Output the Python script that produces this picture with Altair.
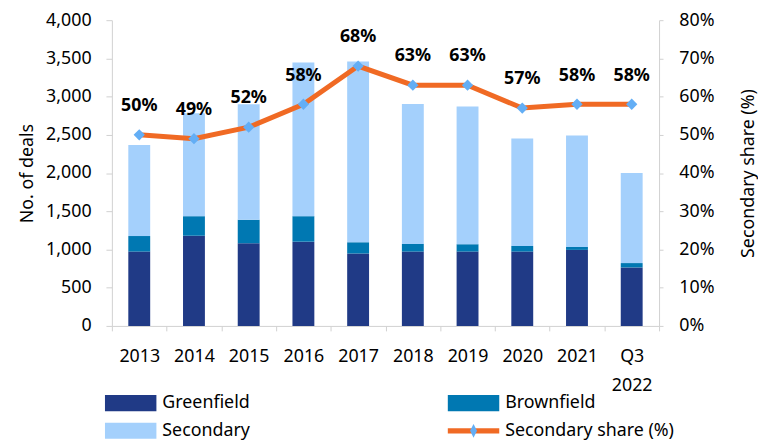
import altair as alt
import pandas as pd

FONT = "Noto Sans"

years = ["2013", "2014", "2015", "2016", "2017", "2018", "2019", "2020", "2021", "Q3 2022"]
greenfield = [973, 1180, 1081, 1102, 947, 973, 973, 973, 995, 765]
brownfield = [203, 256, 307, 334, 147, 100, 96, 74, 39, 57]
secondary = [1190, 1345, 1513, 2010, 2365, 1832, 1802, 1404, 1456, 1180]
share = [0.50, 0.49, 0.52, 0.58, 0.68, 0.63, 0.63, 0.57, 0.58, 0.58]

series_names = ["Greenfield", "Brownfield", "Secondary"]
series_colors = ["#203a86", "#0078b2", "#a4d0fc"]
line_name = "Secondary share (%)"
line_color = "#f06a24"
marker_color = "#63aef5"
axis_grey = "#d0d0d0"

left_ticks = [0, 500, 1000, 1500, 2000, 2500, 3000, 3500, 4000]
right_ticks = [0, 0.1, 0.2, 0.3, 0.4, 0.5, 0.6, 0.7, 0.8]

# legend layout (2 columns x 2 rows)
leg_labels = series_names + [line_name]
leg_col = [0, 1, 0, 1]
leg_row = [0, 0, 1, 1]

rows = []
for i, yr in enumerate(years):
    for k, (name, vals) in enumerate(zip(series_names, [greenfield, brownfield, secondary])):
        rows.append({"year": yr, "series": name, "value": vals[i], "order": k})
bars_df = pd.DataFrame(rows)
share_df = pd.DataFrame({"year": years, "share": share})
leg_df = pd.DataFrame({"label": leg_labels, "col": leg_col, "row": leg_row})

x_enc = alt.X(
    "year:N",
    sort=years,
    scale=alt.Scale(paddingInner=0, paddingOuter=0),
    axis=alt.Axis(
        title=None,
        labelAngle=0,
        labelExpr="datum.value == 'Q3 2022' ? ['Q3', '2022'] : datum.value",
        tickBand="extent",
        tickSize=5,
        labelPadding=17,
        labelLineHeight=29,
        domainColor=axis_grey,
        tickColor=axis_grey,
    ),
)

bars = alt.Chart(bars_df).mark_bar(width=alt.RelativeBandSize(0.4)).encode(
    x=x_enc,
    y=alt.Y(
        "value:Q",
        stack="zero",
        scale=alt.Scale(domain=[0, 4000]),
        axis=alt.Axis(
            values=left_ticks,
            format=",.0f",
            title="No. of deals",
            grid=False,
            tickSize=6,
            labelPadding=15,
            titlePadding=9,
            domainColor=axis_grey,
            tickColor=axis_grey,
        ),
    ),
    color=alt.Color("series:N", scale=alt.Scale(domain=series_names, range=series_colors), legend=None),
    order=alt.Order("order:Q"),
)

y_share = alt.Y(
    "share:Q",
    scale=alt.Scale(domain=[0, 0.8]),
    axis=alt.Axis(
        orient="right",
        values=right_ticks,
        format=".0%",
        title=line_name,
        titleAngle=270,
        titleBaseline="top",
        grid=False,
        tickSize=4,
        labelPadding=16,
        titlePadding=26,
        domainColor=axis_grey,
        tickColor=axis_grey,
    ),
)

line = alt.Chart(share_df).mark_line(color=line_color, strokeWidth=5).encode(x=x_enc, y=y_share)
pts = alt.Chart(share_df).mark_point(
    shape="diamond", filled=True, size=130, color=marker_color, opacity=1
).encode(x=x_enc, y=y_share)
txt = alt.Chart(share_df).mark_text(
    dy=-29, fontSize=18, fontWeight="bold", font=FONT, color="black"
).encode(x=x_enc, y=y_share, text=alt.Text("share:Q", format=".0%"))

main = alt.layer(bars, alt.layer(line, pts, txt)).resolve_scale(y="independent").properties(
    width=553, height=309
)

lx = alt.X("col:Q", scale=alt.Scale(domain=[0, 1], range=[19, 365.5]), axis=None)
ly = alt.Y("row:Q", scale=alt.Scale(domain=[0, 1], range=[7, 35]), axis=None)

swatch = alt.Chart(leg_df).transform_filter(
    alt.datum.label != line_name
).mark_point(
    shape="M-1.6,-0.5H1.6V0.5H-1.6Z", filled=True, size=1056, opacity=1
).encode(
    x=lx,
    y=ly,
    color=alt.Color("label:N", scale=alt.Scale(domain=series_names, range=series_colors), legend=None),
)

leg_line = alt.Chart(leg_df).transform_filter(
    alt.datum.label == line_name
).mark_point(
    shape="M-1.6,-0.16H1.6V0.16H-1.6Z", filled=True, size=1056, opacity=1, color=line_color
).encode(x=lx, y=ly)

leg_diamond = alt.Chart(leg_df).transform_filter(
    alt.datum.label == line_name
).mark_point(
    shape="M0,-1L0.5,0L0,1L-0.5,0Z", filled=True, size=196, opacity=1, color=marker_color
).encode(x=lx, y=ly)

leg_text = alt.Chart(leg_df).mark_text(
    align="left", baseline="middle", dx=32, fontSize=18, font=FONT, color="black"
).encode(x=lx, y=ly, text="label:N")

legend = alt.layer(swatch, leg_line, leg_diamond, leg_text).properties(width=553, height=40)

chart = alt.vconcat(main, legend, spacing=0).properties(
    padding={"left": 10, "top": 1, "right": 0, "bottom": 0}
).configure_view(stroke=None).configure_axis(
    labelFont=FONT,
    labelFontSize=18,
    labelColor="black",
    titleFont=FONT,
    titleFontSize=18,
    titleFontWeight="normal",
    titleColor="black",
)

chart.save("out.html", embed_options={"renderer": "svg", "actions": False})
